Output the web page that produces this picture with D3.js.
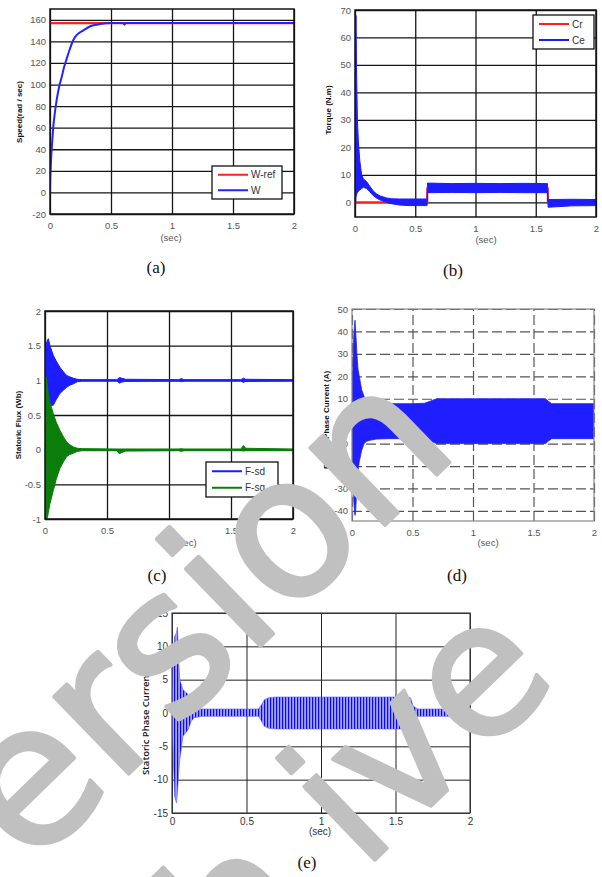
<!DOCTYPE html>
<html>
<head>
<meta charset="utf-8">
<script src="https://cdn.jsdelivr.net/npm/d3@7"></script>
<style>
  body { margin: 0; background: #fff; }
  svg { display: block; }
</style>
</head>
<body>
<svg id="fig" width="602" height="877"></svg>
<script>
// time axis shared by every panel
const timeTicks = [0, 0.5, 1, 1.5, 2];

// (a) speed
const speedT   = [0, 0.002, 0.005, 0.01, 0.02, 0.027, 0.04, 0.055, 0.075, 0.096, 0.115, 0.137, 0.16, 0.19, 0.22, 0.27, 0.33, 0.41, 0.5, 0.6, 0.61, 0.62, 0.7, 1.0, 1.5, 2.0];
const speedW   = [0, 12, 21, 33, 50, 61, 74, 86, 98, 107, 116, 124, 132, 141, 146, 150, 154, 156, 157, 157, 155.5, 157, 157, 157, 157, 157];
const speedRefT = [0, 2];
const speedRef  = [157, 157];

// (b) torque, Ce drawn as its noise envelope
const torqueT = [0, 0.004, 0.008, 0.014, 0.02, 0.028, 0.04, 0.055, 0.07, 0.097, 0.12, 0.15, 0.18, 0.21, 0.26, 0.3, 0.37, 0.45, 0.55, 0.598, 0.602, 0.8, 1.0, 1.2, 1.4, 1.597, 1.603, 1.8, 2.0];
const ceHigh  = [-1, 55, 68, 45, 30, 22, 15, 10, 8.5, 7.5, 6, 4.2, 3, 2.3, 1.6, 1.3, 1.2, 1.2, 1.2, 1.2, 7, 6.8, 6.9, 6.8, 6.9, 6.8, 1.0, 1.1, 1.0];
const ceLow   = [-3, -2, 2, 3, 3.5, 4, 4.5, 5, 5.5, 5, 4, 2.5, 1.5, 0.8, 0, -0.5, -1, -1.2, -1.2, -1.2, 3.5, 3.6, 3.5, 3.6, 3.5, 3.5, -1.8, -1.3, -1.2];
const crT = [0, 0.6, 0.6, 1.6, 1.6, 2];
const crV = [0, 0, 5, 5, 0, 0];

// (c) stator flux envelopes
const fluxT   = [0, 0.005, 0.01, 0.02, 0.027, 0.04, 0.067, 0.09, 0.12, 0.15, 0.175, 0.2, 0.23, 0.26, 0.3, 0.58, 0.6, 0.62, 0.65, 1.08, 1.1, 1.12, 1.58, 1.6, 1.62, 2.0];
const fsdHigh = [1.35, 1.45, 1.52, 1.58, 1.6, 1.5, 1.36, 1.28, 1.19, 1.12, 1.07, 1.05, 1.03, 1.015, 1.01, 1.01, 1.04, 1.03, 1.015, 1.01, 1.025, 1.01, 1.01, 1.03, 1.015, 1.01];
const fsdLow  = [0.76, 0.72, 0.7, 0.68, 0.66, 0.64, 0.64, 0.72, 0.81, 0.86, 0.9, 0.93, 0.95, 0.98, 0.99, 0.99, 0.96, 0.975, 0.985, 0.99, 0.98, 0.99, 0.99, 0.97, 0.985, 0.99];
const fsqHigh = [0.9, 1.02, 1.05, 0.9, 0.8, 0.68, 0.52, 0.4, 0.28, 0.18, 0.11, 0.07, 0.04, 0.02, 0.015, 0.01, 0.01, 0.01, 0.01, 0.01, 0.015, 0.01, 0.01, 0.06, 0.02, 0.01];
const fsqLow  = [-0.7, -0.95, -1.0, -0.98, -0.9, -0.78, -0.59, -0.43, -0.27, -0.17, -0.1, -0.07, -0.05, -0.025, -0.015, -0.015, -0.06, -0.04, -0.02, -0.015, -0.025, -0.015, -0.015, -0.02, -0.015, -0.015];

// (d) rotor phase current envelope
const rotorT    = [0, 0.005, 0.01, 0.015, 0.02, 0.025, 0.03, 0.035, 0.04, 0.05, 0.06, 0.08, 0.1, 0.12, 0.15, 0.2, 0.3, 0.5, 0.6, 0.65, 0.7, 1.6, 1.62, 1.65, 2.0];
const rotorHigh = [20, 22, 28, 38, 42, 45, 40, 36, 30, 23, 20, 14, 11, 9.5, 8.5, 8, 7.8, 7.8, 8, 9, 10, 10, 9, 7.8, 7.8];
const rotorLow  = [-18, -20, -25, -35, -40, -42, -40, -35, -30, -22, -18, -13, -10, -9, -8.5, -8, -7.8, -7.8, -8, -9, -10, -10, -9, -7.8, -7.8];

// (e) stator phase current envelope
const statorT    = [0, 0.007, 0.018, 0.03, 0.036, 0.045, 0.052, 0.074, 0.108, 0.13, 0.15, 0.2, 0.58, 0.6, 0.62, 0.65, 0.7, 1.55, 1.58, 1.6, 1.62, 1.65, 2.0];
const statorHigh = [3.5, 8, 11.5, 12, 12.9, 8, 5, 3.5, 2.8, 1.5, 0.8, 0.6, 0.6, 1.2, 2.0, 2.3, 2.4, 2.4, 2.4, 2.3, 1.0, 0.6, 0.6];
const statorLow  = [-3, -6, -12.5, -13.5, -12, -9, -7, -3.5, -2.5, -1.2, -0.7, -0.5, -0.5, -1.2, -2.0, -2.3, -2.4, -2.4, -2.4, -2.3, -1.0, -0.5, -0.5];

const svg = d3.select('#fig');
const defs = svg.append('defs');

// fine vertical stripes standing in for the dense oscillation of (e)
const pat = defs.append('pattern')
  .attr('id', 'osc').attr('patternUnits', 'userSpaceOnUse')
  .attr('width', 3).attr('height', 20);
pat.append('rect').attr('width', 3).attr('height', 20).attr('fill', '#a4a4ff');
pat.append('rect').attr('width', 1.2).attr('height', 20).attr('fill', '#0a0aee');

const tickFont = '"Liberation Sans", Arial, sans-serif';
const fmt = d => String(d);

function panel(id, cfg) {
  const x = d3.scaleLinear().domain([0, 2]).range([cfg.left, cfg.right]);
  const y = d3.scaleLinear().domain(cfg.yDomain).range([cfg.bottom, cfg.top]);
  const w = cfg.right - cfg.left, h = cfg.bottom - cfg.top;
  const g = svg.append('g');

  // grid
  const gx = g.append('g')
    .attr('transform', `translate(0,${cfg.bottom})`)
    .call(d3.axisBottom(x).tickValues(timeTicks).tickSize(-h).tickFormat(''));
  const gy = g.append('g')
    .attr('transform', `translate(${cfg.left},0)`)
    .call(d3.axisLeft(y).tickValues(cfg.yTicks).tickSize(-w).tickFormat(''));
  [gx, gy].forEach(s => {
    s.select('.domain').remove();
    s.selectAll('line')
      .attr('stroke', cfg.grid.color)
      .attr('stroke-width', cfg.grid.width)
      .attr('stroke-dasharray', cfg.grid.dash || null);
  });

  defs.append('clipPath').attr('id', 'clip-' + id)
    .append('rect').attr('x', cfg.left).attr('y', cfg.top).attr('width', w).attr('height', h);
  const plot = g.append('g').attr('clip-path', `url(#clip-${id})`);

  g.append('rect')
    .attr('x', cfg.left).attr('y', cfg.top).attr('width', w).attr('height', h)
    .attr('fill', 'none').attr('stroke', cfg.frame.color).attr('stroke-width', cfg.frame.width);

  // tick labels
  const lx = g.append('g')
    .attr('transform', `translate(0,${cfg.bottom})`)
    .call(d3.axisBottom(x).tickValues(timeTicks).tickSize(0).tickPadding(cfg.xPad || 8).tickFormat(fmt));
  const ly = g.append('g')
    .attr('transform', `translate(${cfg.left},0)`)
    .call(d3.axisLeft(y).tickValues(cfg.yTicks).tickSize(0).tickPadding(4).tickFormat(fmt));
  [lx, ly].forEach(s => {
    s.select('.domain').remove();
    s.attr('font-family', tickFont).attr('font-size', cfg.tickSize || 9.5);
    s.selectAll('text').attr('fill', cfg.tickColor || '#555');
  });

  g.append('text')
    .attr('x', cfg.secX).attr('y', cfg.secY)
    .attr('text-anchor', 'middle')
    .attr('font-family', tickFont).attr('font-size', cfg.tickSize || 9.5)
    .attr('fill', cfg.tickColor || '#555')
    .text('(sec)');

  g.append('text')
    .attr('transform', `translate(${cfg.ylabX},${cfg.ylabY}) rotate(-90)`)
    .attr('text-anchor', 'middle')
    .attr('font-family', cfg.ylabFont || tickFont)
    .attr('font-weight', cfg.ylabWeight || 'bold')
    .attr('font-size', cfg.ylabSize || 8)
    .attr('fill', '#111')
    .text(cfg.ylabel);

  svg.append('text')
    .attr('x', cfg.capX).attr('y', cfg.capY)
    .attr('text-anchor', 'middle')
    .attr('font-family', '"Liberation Serif", "Times New Roman", serif')
    .attr('font-size', 17)
    .attr('fill', '#111')
    .text(cfg.caption);

  return { x, y, plot, g };
}

function legend(g, box, items) {
  g.append('rect')
    .attr('x', box.x).attr('y', box.y).attr('width', box.w).attr('height', box.h)
    .attr('fill', '#fff').attr('stroke', '#111').attr('stroke-width', 1.3);
  items.forEach((it, i) => {
    const yy = box.y + box.h * (i + 0.5) / items.length + (i === 0 ? 0.5 : -0.5);
    g.append('line')
      .attr('x1', box.x + 6).attr('x2', box.x + 36).attr('y1', yy).attr('y2', yy)
      .attr('stroke', it.color).attr('stroke-width', 2);
    g.append('text')
      .attr('x', box.x + 39).attr('y', yy + 3.5)
      .attr('font-family', tickFont).attr('font-size', 10).attr('fill', '#333')
      .text(it.label);
  });
}

const solidGrid = { color: '#151515', width: 1.3 };
const solidFrame = { color: '#151515', width: 1.5 };
const band = (p, lo, hi) => d3.area().x(d => p.x(d)).y0((d, i) => p.y(lo[i])).y1((d, i) => p.y(hi[i]));

// ---------- (a) ----------
const A = panel('a', {
  left: 50, right: 294, top: 9, bottom: 214,
  yDomain: [-20, 170], yTicks: d3.range(-20, 161, 20),
  grid: solidGrid, frame: solidFrame,
  secX: 171, secY: 241, ylabX: 22, ylabY: 112, ylabel: 'Speed(rad / sec)',
  capX: 156, capY: 273, caption: '(a)'
});
A.plot.append('path')
  .datum(speedRefT)
  .attr('d', d3.line().x(d => A.x(d)).y((d, i) => A.y(speedRef[i])))
  .attr('fill', 'none').attr('stroke', '#ff2020').attr('stroke-width', 2.2);
A.plot.append('path')
  .datum(speedT)
  .attr('d', d3.line().curve(d3.curveMonotoneX).x(d => A.x(d)).y((d, i) => A.y(speedW[i])))
  .attr('fill', 'none').attr('stroke', '#2424ff').attr('stroke-width', 2);
legend(A.g, { x: 212, y: 166, w: 70, h: 33 }, [
  { label: 'W-ref', color: '#ff2020' }, { label: 'W', color: '#2424ff' }
]);

// ---------- (b) ----------
const B = panel('b', {
  left: 355, right: 596, top: 10, bottom: 217,
  yDomain: [-5.35, 70], yTicks: d3.range(0, 71, 10),
  grid: solidGrid, frame: solidFrame,
  secX: 486, secY: 243, ylabX: 331, ylabY: 110, ylabel: 'Torque (N.m)',
  capX: 453, capY: 276, caption: '(b)'
});
B.plot.append('path')
  .datum(crT)
  .attr('d', d3.line().x(d => B.x(d)).y((d, i) => B.y(crV[i])))
  .attr('fill', 'none').attr('stroke', '#ff2020').attr('stroke-width', 2);
B.plot.append('path')
  .datum(torqueT)
  .attr('d', band(B, ceLow, ceHigh))
  .attr('fill', '#1c1cff').attr('stroke', '#1c1cff').attr('stroke-width', 1);
legend(B.g, { x: 533, y: 15, w: 61, h: 34 }, [
  { label: 'Cr', color: '#ff2020' }, { label: 'Ce', color: '#1c1cff' }
]);

// ---------- (c) ----------
const C = panel('c', {
  left: 45, right: 293, top: 311, bottom: 519,
  yDomain: [-1, 2], yTicks: d3.range(-1, 2.01, 0.5),
  grid: solidGrid, frame: solidFrame,
  secX: 186, secY: 546, ylabX: 21, ylabY: 425, ylabel: 'Statoric Flux (Wb)',
  capX: 157, capY: 581, caption: '(c)'
});
C.plot.append('path')
  .datum(fluxT)
  .attr('d', band(C, fsdLow, fsdHigh))
  .attr('fill', '#1c1cff').attr('stroke', '#1c1cff').attr('stroke-width', 1);
C.plot.append('path')
  .datum(fluxT)
  .attr('d', band(C, fsqLow, fsqHigh))
  .attr('fill', '#0b7d0b').attr('stroke', '#0b7d0b').attr('stroke-width', 1);
legend(C.g, { x: 206, y: 462, w: 72, h: 35 }, [
  { label: 'F-sd', color: '#1c1cff' }, { label: 'F-sq', color: '#0b7d0b' }
]);

// ---------- (d) ----------
const D = panel('d', {
  left: 352, right: 594, top: 309, bottom: 521,
  yDomain: [-44.5, 50], yTicks: d3.range(-40, 51, 10),
  grid: { color: '#555', width: 1.2, dash: '10,4' }, frame: { color: '#888', width: 1.2 },
  secX: 488, secY: 546, ylabX: 329, ylabY: 420, ylabel: 'Rotoric Phase Current (A)',
  capX: 457, capY: 581, caption: '(d)'
});
D.plot.append('path')
  .datum(rotorT)
  .attr('d', band(D, rotorLow, rotorHigh))
  .attr('fill', '#1e1eff').attr('stroke', '#1e1eff').attr('stroke-width', 0.8);

// ---------- (e) ----------
const E = panel('e', {
  left: 172, right: 470, top: 613, bottom: 813,
  yDomain: [-15, 15], yTicks: d3.range(-15, 16, 5),
  grid: { color: '#222', width: 1 }, frame: { color: '#444', width: 1.2 },
  xPad: 5, tickSize: 10, tickColor: '#333',
  secX: 320, secY: 835, ylabX: 149, ylabY: 716, ylabel: 'Statoric Phase Current (A)',
  ylabFont: '"Open Sans", Calibri, sans-serif', ylabWeight: 600, ylabSize: 9.5,
  capX: 307, capY: 868, caption: '(e)'
});
E.plot.append('path')
  .datum(statorT)
  .attr('d', band(E, statorLow, statorHigh))
  .attr('fill', 'url(#osc)').attr('stroke', '#5a5aff').attr('stroke-width', 0.6);

// ---------- watermark ----------
// each word is fitted so that two of its letters land where they sit in the scan
const wmSize = 200;
const wm = svg.append('g')
  .attr('font-family', '"DejaVu Sans", sans-serif')
  .attr('font-size', wmSize)
  .attr('fill', '#c0c0c0')
  .attr('stroke', '#c0c0c0')
  .attr('stroke-width', 4)
  .attr('stroke-linejoin', 'round');

function placeWord(parts, i1, p1, i2, p2) {
  const t = wm.append('text');
  parts.forEach(p => t.append('tspan').attr('dx', p.dx || 0).text(p.s));
  const n = t.node();
  const e1 = n.getExtentOfChar(i1), e2 = n.getExtentOfChar(i2);
  const cy = -0.27 * wmSize;
  const c1 = e1.x + e1.width / 2, c2 = e2.x + e2.width / 2;
  const dx = p2[0] - p1[0], dy = p2[1] - p1[1];
  const s = Math.hypot(dx, dy) / (c2 - c1);
  const ang = Math.atan2(dy, dx) * 180 / Math.PI;
  t.attr('transform', `translate(${p1[0]},${p1[1]}) rotate(${ang}) scale(${s}) translate(${-c1},${-cy})`);
}
placeWord([{ s: 'Version' }], 1, [36, 790], 6, [380, 456]);
placeWord([{ s: 'Arch' }, { s: 'ive', dx: 60 }], 4, [346, 818], 6, [485, 684]);
</script>
</body>
</html>
